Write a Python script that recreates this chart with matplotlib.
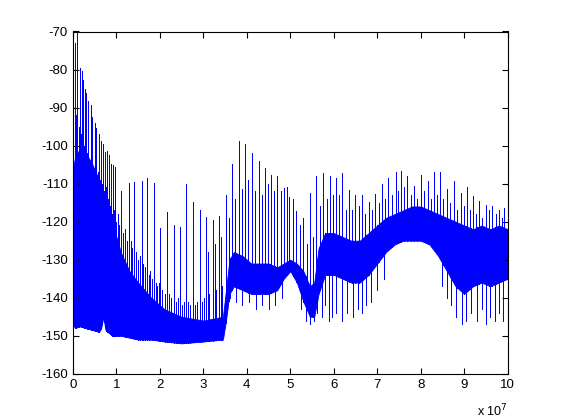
import numpy as np
import matplotlib
matplotlib.use('Agg')
import matplotlib.pyplot as plt

# dense noise floor band (x in units of 1e7)
band_x = [0.0, 0.05, 0.15, 0.3, 0.45, 0.6, 0.65, 0.7, 0.75, 0.9, 1.1, 1.3, 1.5, 1.8, 2.1, 2.5,
          3.0, 3.45, 3.52, 3.6, 3.7, 3.9, 4.1, 4.3, 4.5, 4.7, 4.85, 5.0, 5.15, 5.3, 5.45,
          5.55, 5.65, 5.8, 6.0, 6.2, 6.4, 6.6, 6.8, 7.0, 7.2, 7.4, 7.6, 7.8, 8.0, 8.2,
          8.4, 8.6, 8.8, 9.0, 9.2, 9.4, 9.6, 9.8, 10.0]
band_high = [-106, -103, -101, -102, -105, -109, -110, -112, -114, -120, -128, -133, -136, -140, -143, -145,
             -146, -145, -138, -130, -128, -129, -131, -131, -131, -132, -131, -130, -131, -133, -137,
             -136, -127, -123, -123, -124, -125, -125, -123, -121, -119, -118, -117, -116, -116, -117,
             -118, -119, -120, -121, -122, -121, -122, -121, -122]
band_low = [-147, -148, -147.5, -148, -148.5, -149, -148, -145, -148.5, -150, -150, -150.5, -151, -151, -151.5, -152,
            -151.5, -151, -146, -139, -137, -138, -139, -139, -139, -138, -135, -133, -136, -141, -145,
            -145, -139, -134, -134, -135, -136, -136, -134, -131, -128, -126, -125, -125, -125, -126,
            -129, -133, -137, -139, -137, -136, -137, -136, -135]

# tall harmonic spikes
spike_x = [0.02, 0.04, 0.10, 0.16, 0.20, 0.24, 0.28, 0.30, 0.35, 0.41, 0.44, 0.50, 0.54, 0.59, 0.64,
           0.69, 0.74, 0.79, 0.83, 0.88, 0.92, 0.96, 1.11, 1.28, 1.41, 1.58, 1.70, 1.86, 2.01,
           2.16, 2.32, 2.46, 2.60, 2.76, 2.93, 3.06, 3.22, 3.36, 3.51, 3.65, 3.81, 3.95, 4.11,
           4.27, 4.41, 4.55, 4.70, 4.86, 4.98, 5.14, 5.30, 5.46, 5.60, 5.76, 5.91, 6.05, 6.19,
           6.35, 6.49, 6.64, 6.80, 6.95, 7.12, 7.25, 7.42, 7.55, 7.69, 7.84, 8.00, 8.16, 8.30,
           8.44, 8.61, 8.76, 8.92, 9.07, 9.20, 9.34, 9.49, 9.64, 9.79, 9.92]
spike_top = [-106, -73, -70.3, -79.5, -80.4, -82.8, -85, -86.3, -88.4, -89.2, -92.6, -94.1, -95.5, -97, -98.9,
             -99.6, -101.8, -101.5, -102.4, -104.9, -105.1, -105.7, -112, -109.9, -109.5, -109.3, -108.6, -109.9, -121.7,
             -117.5, -120.9, -121.5, -110.1, -114.9, -116.9, -118.7, -119.5, -118.6, -113, -104.9, -98.7, -99.7, -102,
             -104, -106, -107.7, -108.1, -111.2, -113.4, -117.1, -119.1, -112.5, -108.1, -107.3, -108.1, -108.4, -107.3,
             -111.6, -112.9, -112.9, -114.9, -112.8, -110.1, -108.6, -107, -106.8, -108.1, -110.7, -107.7, -109.4, -107,
             -107, -111.4, -109.4, -112.5, -111, -113.3, -114.6, -115.7, -116, -117, -116.4]

# smaller spikes in between
minor_x = [0.07, 0.13, 0.18, 0.22, 0.26, 0.33, 0.38, 0.47, 0.52, 0.57, 0.62, 0.67, 0.72, 0.77,
           0.81, 0.86, 0.9, 0.94, 0.98, 1.03, 1.07, 1.15, 1.2, 1.24, 1.33, 1.37, 1.46, 1.5, 1.54,
           1.62, 1.66, 1.74, 1.78, 1.82, 1.9, 1.94, 1.98, 2.06, 2.11, 2.2, 2.26, 2.36, 2.41,
           2.5, 2.55, 2.65, 2.7, 2.81, 2.86, 2.97, 3.01, 3.1, 3.14, 3.26, 3.29, 3.41, 3.44,
           3.58, 3.73, 3.88, 4.03, 4.19, 4.34, 4.48, 4.63,
           4.78, 4.92, 5.06, 5.22, 5.38, 5.53, 5.68, 5.84, 5.98, 6.12, 6.27, 6.42, 6.57, 6.72,
           6.88, 7.03, 7.18, 7.34, 7.48, 7.62, 7.77, 7.92, 8.08, 8.23, 8.37, 8.52, 8.68, 8.84,
           9.0, 9.14, 9.27, 9.42, 9.56, 9.72, 9.86]
minor_top = [-92, -95, -97, -99, -100, -102, -104, -106, -104, -107, -109, -110, -112, -111,
             -114, -116, -118, -117, -120, -118, -121, -123, -122, -125, -125, -127, -128, -130, -129,
             -131, -132, -134, -133, -135, -136, -137, -136, -138, -139, -139, -140, -141, -140,
             -142, -141, -141, -142, -142, -141, -141, -140, -128, -139, -126, -138, -124, -137,
             -119, -114, -111.5, -109, -112, -113, -110, -112,
             -112, -111, -114, -121, -126, -124, -116, -114, -113, -113, -117, -117, -116, -118,
             -117, -115, -114, -113, -112, -111, -113, -114, -112, -114, -113, -114, -115, -117,
             -116, -117, -118, -119, -117, -118, -119]

# downward dips below the band
dip_x = [3.62, 3.75, 3.9, 4.05, 4.2, 4.35, 4.5, 4.65, 4.8, 5.25, 5.35, 5.45, 5.55, 5.62,
         5.72, 5.8, 5.88, 5.95, 6.05, 6.2, 6.3, 6.45, 6.55, 6.65, 6.75, 6.85, 7.0, 7.15,
         8.5, 8.6, 8.7, 8.8, 8.95, 9.05, 9.15, 9.3, 9.4, 9.5, 9.6, 9.7, 9.8, 9.9]
dip_bottom = [-140, -141, -142, -141, -143, -142, -143, -142, -140, -143, -146, -147, -146, -144,
              -145, -142, -146, -145, -144, -146, -144, -145, -143, -144, -142, -141, -138, -135,
              -137, -140, -142, -145, -147, -146, -144, -146, -143, -147, -145, -146, -144, -146]

plt.rcParams['font.family'] = ['Liberation Sans', 'DejaVu Sans']
plt.rcParams['axes.unicode_minus'] = False
fig = plt.figure(figsize=(5.61, 4.2), dpi=100)
ax = fig.add_axes([0.13, 0.11, 0.775, 0.815])

blue = (0, 0, 1)
ax.fill_between(band_x, band_low, band_high, color=blue, linewidth=0.6)
base = np.interp(spike_x, band_x, band_low)
ax.vlines(spike_x, base, spike_top, color=blue, linewidth=0.5, antialiased=False)
base = np.interp(minor_x, band_x, band_low)
ax.vlines(minor_x, base, minor_top, color=blue, linewidth=0.5, antialiased=False)
top = np.interp(dip_x, band_x, band_high)
ax.vlines(dip_x, dip_bottom, top, color=blue, linewidth=0.5, antialiased=False)

ax.set_xlim(0, 10)
ax.set_ylim(-160, -70)
ax.set_xticks(range(0, 11))
ax.set_yticks(range(-160, -69, 10))
ax.tick_params(direction='in', length=4, labelsize=9.5, top=True, right=True)
for s in ax.spines.values():
    s.set_linewidth(0.8)
ax.text(1.0, -0.085, r'x 10$^{7}$', transform=ax.transAxes, ha='right', va='top', fontsize=9)

fig.savefig('out.png', dpi=100)
